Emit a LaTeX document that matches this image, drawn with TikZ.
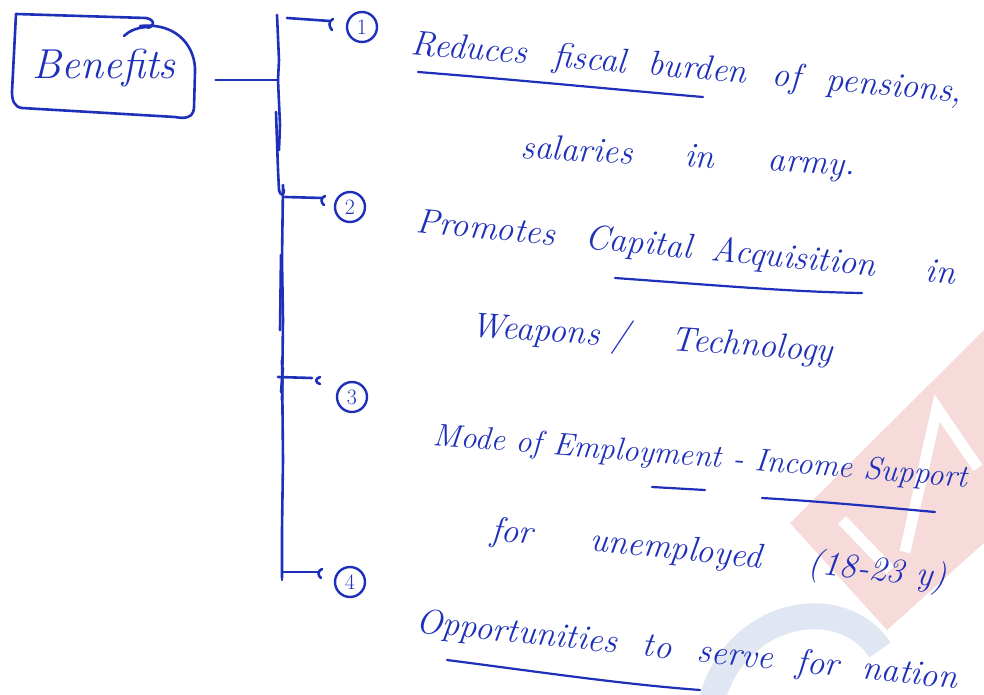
\documentclass[tikz,border=0pt]{standalone}
\usetikzlibrary{calc}
\definecolor{ink}{RGB}{30,48,186}
\definecolor{wmred}{RGB}{247,218,218}
\definecolor{wmblue}{RGB}{224,231,242}
\newcommand\wsp[1]{\hspace{#1bp}}
\begin{document}
\begin{tikzpicture}[x=1bp,y=-1bp,
  pen/.style={draw=ink,line width=2.6bp,line cap=round,line join=round},
  txt/.style={text=ink,font=\fontsize{35}{40}\selectfont\itshape,anchor=base west,inner sep=0pt},
  num/.style={draw=ink,line width=2.4bp,circle,minimum size=30bp,inner sep=0pt,text=ink,font=\fontsize{22}{22}\selectfont},
  under/.style={pen,line width=2.2bp}]
\useasboundingbox (0,0) rectangle (984,695);

% faint logo in the background
\fill[wmred] (790,523) -- (984,330) -- (984,543) -- (887,630) -- cycle;
\draw[white,line width=11bp] (842,520) -- (890,570);
\draw[white,line width=11bp] (905,552) -- (937,408) -- (978,468);
\draw[wmblue,line width=26bp] (712,700) .. controls (735,612) and (840,590) .. (880,650);

% title box
\node[text=ink,font=\fontsize{42}{42}\selectfont\itshape,inner sep=0pt] (title) at (104,68) {Benefits};
\draw[pen] (16,14) -- (146,18) .. controls (158,20) and (152,30) .. (146,27)
  .. controls (135,28) and (128,32) .. (124,36);
\draw[pen] (140,26) .. controls (180,22) and (196,50) .. (195,72)
  -- (194,108) .. controls (193,118) and (185,119) .. (175,117)
  -- (22,108) .. controls (14,107) and (12,100) .. (12,92) -- (16,14);

% trunk
\coordinate (t0) at (277,15);
\coordinate (tj) at (278,80);
\coordinate (t4) at (282,578);
\draw[pen] (title.east) ++(40,12) coordinate (c0) -- (tj);
\draw[pen] (t0) -- (279,60) -- (tj) -- (280,125) -- (279,150);
\draw[pen] (276,112) -- (278,170) -- (279,190) .. controls (280,196) and (284,196) .. (284,190);
\draw[pen] (283,185) -- (282,260) -- (283,320) -- (282,400);
\draw[pen] (281,255) -- (280,330);
\draw[pen] (282,360) -- (283,460) -- (282,530) -- (t4);

% numbered points
\node[num] (n1) at (362,27) {1};
\node[num] (n2) at (350,207) {2};
\node[num] (n3) at (352,397) {3};
\node[num] (n4) at (350,582) {4};

% branches with the small pen hook before each number
\draw[pen] (287,18) -- (330,21);
\draw[pen] (333,19) .. controls (328,21) and (329,27) .. (332,30);
\draw[pen] (285,197) -- (322,198);
\draw[pen] (325,196) .. controls (320,198) and (321,203) .. (324,205);
\draw[pen] (278,377) -- (312,378);
\draw[pen] (320,377) .. controls (314,379) and (316,383) .. (320,384);
\draw[pen] (282,572) -- (318,572);
\draw[pen] (322,569) .. controls (317,571) and (318,576) .. (321,578);
\draw[pen] (283,368) -- (281,392);
\draw[pen] (282,565) -- (282,580);

% point 1
\node[txt,rotate=-5] (p1a) at (410,54)
  {Reduces\wsp{14} fiscal\wsp{10} burden\wsp{14} of\wsp{14} pensions,};
\node[txt,rotate=-3] (p1b) at (520,158) {salaries\wsp{40} in\wsp{42} army.};
\draw[under] (418,72) .. controls (520,80) and (620,90) .. (703,97);

% point 2
\node[txt,rotate=-5.5] (p2a) at (415,232)
  {Promotes\wsp{18} Capital\wsp{8} Acquisition\wsp{38} in};
\node[txt,rotate=-4] (p2b) at (470,336) {Weapons / \wsp{30}Technology};
\draw[under] (615,278) .. controls (700,284) and (790,292) .. (862,293);

% point 3
\node[txt,rotate=-4.5,font=\fontsize{32}{38}\selectfont\itshape] (p3a) at (432,445)
  {Mode of Employment - Income Support};
\draw[under] (652,487) -- (705,490);
\draw[under] (762,498) .. controls (830,502) and (890,508) .. (935,512);
\node[txt,rotate=-6] (p3b) at (490,540) {for\wsp{45} unemployed\wsp{35} (18-23 y)};

% point 4
\node[txt,rotate=-6] (p4a) at (415,632)
  {Opportunities\wsp{14} to\wsp{14} serve\wsp{12} for\wsp{12} nation};
\draw[under] (447,660) .. controls (540,672) and (620,684) .. (700,690);
\end{tikzpicture}
\end{document}
